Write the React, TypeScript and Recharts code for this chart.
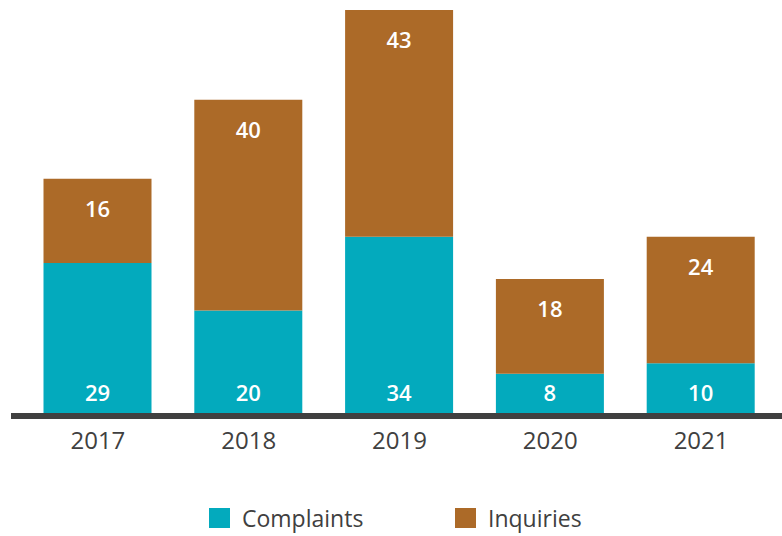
import { Bar, BarChart, LabelList, XAxis, YAxis } from "recharts";

const years = ["2017", "2018", "2019", "2020", "2021"];
const complaints = [29, 20, 34, 8, 10];
const inquiries = [16, 40, 43, 18, 24];

const data = years.map((year, i) => ({
  year,
  Complaints: complaints[i],
  Inquiries: inquiries[i]
}));

const TEAL = "#03AABD";
const BROWN = "#AC6A28";
const FONT = "'Open Sans', sans-serif";

const bottomLabel = (props: any) => {
  const { x, y, width, height, value } = props;
  return (
    <text
      x={x + width / 2}
      y={y + height - 24}
      fill="#ffffff"
      fontSize={22}
      fontWeight={600}
      fontFamily={FONT}
      textAnchor="middle"
      dominantBaseline="central"
    >
      {value}
    </text>
  );
};

const topLabel = (props: any) => {
  const { x, y, width, value } = props;
  return (
    <text
      x={x + width / 2}
      y={y + 29}
      fill="#ffffff"
      fontSize={22}
      fontWeight={600}
      fontFamily={FONT}
      textAnchor="middle"
      dominantBaseline="central"
    >
      {value}
    </text>
  );
};

const legendItems = [
  { name: "Complaints", color: TEAL, left: 209 },
  { name: "Inquiries", color: BROWN, left: 455 }
];

export default function App() {
  return (
    <div style={{ position: "relative", width: 782, height: 536, fontFamily: FONT, overflow: "hidden" }}>
      <style>{"body{margin:0;overflow:hidden}"}</style>
      <BarChart
        width={782}
        height={536}
        data={data}
        margin={{ top: 10, right: 0, bottom: 60, left: 11 }}
        barSize={108}
      >
        <YAxis hide domain={[0, 77]} />
        <XAxis
          dataKey="year"
          height={60}
          padding={{ left: 11.5, right: 5.5 }}
          axisLine={{ stroke: "#404040", strokeWidth: 6 }}
          tickLine={false}
          tick={{ fill: "#404040", fontSize: 24, fontFamily: FONT }}
          tickMargin={10}
        />
        <Bar dataKey="Complaints" stackId="a" fill={TEAL} isAnimationActive={false}>
          <LabelList dataKey="Complaints" content={bottomLabel} />
        </Bar>
        <Bar dataKey="Inquiries" stackId="a" fill={BROWN} isAnimationActive={false}>
          <LabelList dataKey="Inquiries" content={topLabel} />
        </Bar>
      </BarChart>
      {legendItems.map((item) => (
        <div
          key={item.name}
          style={{
            position: "absolute",
            left: item.left,
            top: 503,
            height: 30,
            display: "flex",
            alignItems: "center",
            fontSize: 23,
            lineHeight: "30px",
            color: "#404040"
          }}
        >
          <span style={{ width: 21, height: 20, background: item.color, marginRight: 12 }} />
          {item.name}
        </div>
      ))}
    </div>
  );
}
